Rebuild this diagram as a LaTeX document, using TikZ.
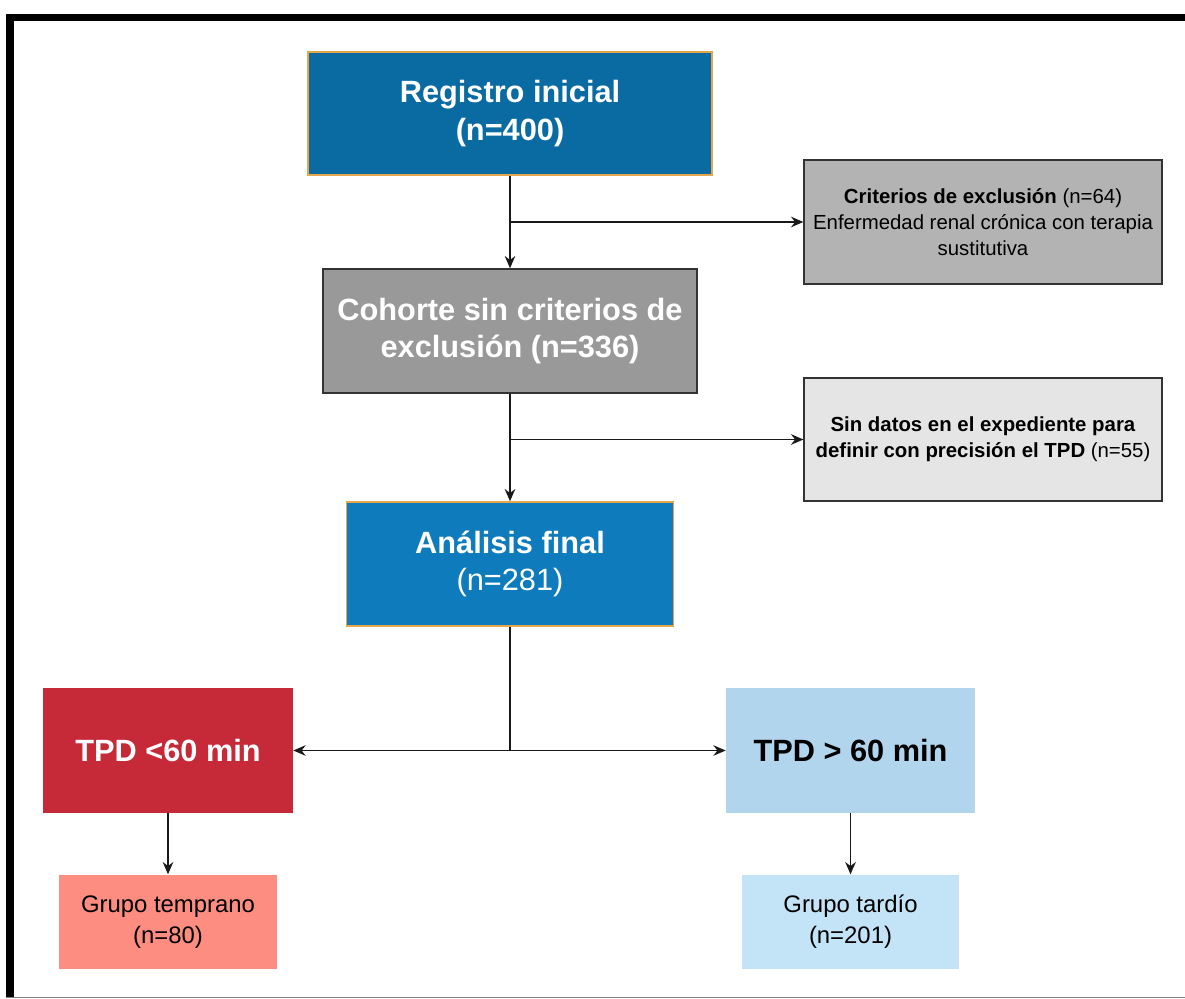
\documentclass[tikz,border=0pt]{standalone}
\usepackage{fontspec}
\setmainfont{Liberation Sans}
\usetikzlibrary{positioning,arrows.meta}
\tikzset{>={Stealth[length=7pt,width=6pt]}}
\definecolor{regblue}{HTML}{0A6AA2}
\definecolor{anablue}{HTML}{0E7BBC}
\definecolor{edgeorange}{HTML}{E6A64E}
\definecolor{cohgray}{HTML}{999999}
\definecolor{critgray}{HTML}{B3B3B3}
\definecolor{sindgray}{HTML}{E5E5E5}
\definecolor{tpdred}{HTML}{C62A38}
\definecolor{tpdblue}{HTML}{B2D5EE}
\definecolor{salmon}{HTML}{FC8D80}
\definecolor{paleblue}{HTML}{C3E3F6}
\tikzset{
  box/.style={rectangle, align=center, inner sep=0pt},
  bigtext/.style={font=\fontsize{17.5}{21.5}\selectfont},
  bigbold/.style={font=\fontsize{17.5}{21.5}\selectfont\bfseries},
  smalltext/.style={font=\fontsize{11.6}{15}\selectfont},
  grptext/.style={font=\fontsize{13.6}{17.6}\selectfont},
  flow/.style={draw=edgeorange, line width=0.8pt},
  excl/.style={draw=black!80, line width=0.8pt},
  conn/.style={line width=0.9pt, black!90}
}

\begin{document}
\begin{tikzpicture}[x=0.02cm, y=-0.02cm]
    \useasboundingbox (0,0) rectangle (1185,999);
    % frame
    \draw[line width=4pt] (6,17.5) -- (1185,17.5);
    \draw[line width=4.5pt] (10,14) -- (10,997);
    \draw[gray, line width=1.1pt] (6,997.5) -- (1185,997.5);

    \node[box, flow, fill=regblue, text=white, bigbold,
          minimum width=8.08cm, minimum height=2.46cm] (reg) at (510,113.5)
          {Registro inicial\\(n=400)};
    \node[box, excl, fill=cohgray, text=white, bigbold,
          minimum width=7.48cm, minimum height=2.48cm] (coh) at (510,331)
          {Cohorte sin criterios de\\exclusión (n=336)};
    \node[box, flow, fill=anablue, text=white, bigtext,
          minimum width=6.54cm, minimum height=2.48cm] (ana) at (510,564)
          {\textbf{Análisis final}\\(n=281)};
    \node[box, excl, fill=critgray, smalltext,
          minimum width=7.16cm, minimum height=2.48cm] (crit) at (983,222)
          {\textbf{Criterios de exclusión} (n=64)\\Enfermedad renal crónica con terapia\\sustitutiva};
    \node[box, excl, fill=sindgray, smalltext,
          minimum width=7.16cm, minimum height=2.46cm] (sind) at (983,439.5)
          {\textbf{Sin datos en el expediente para}\\\textbf{definir con precisión el TPD} (n=55)};
    \node[box, fill=tpdred, text=white, bigbold,
          minimum width=5cm, minimum height=2.5cm] (tpdA) at (168,750.5)
          {TPD <60 min};
    \node[box, fill=tpdblue, bigbold,
          minimum width=4.98cm, minimum height=2.5cm] (tpdB) at (850.5,750.5)
          {TPD > 60 min};
    \node[box, fill=salmon, grptext, minimum width=4.38cm, minimum height=1.88cm,
          below=1.22cm of tpdA] (grpA) {Grupo temprano\\(n=80)};
    \node[box, fill=paleblue, grptext, minimum width=4.36cm, minimum height=1.88cm,
          below=1.22cm of tpdB] (grpB) {Grupo tardío\\(n=201)};

    \coordinate (split) at (ana.south |- tpdA.east);

    \draw[conn, ->] (reg) -- (coh);
    \draw[conn, ->] (reg.south |- crit.west) -- (crit.west);
    \draw[conn, ->] (coh) -- (ana);
    \draw[conn, ->] (coh.south |- sind.west) -- (sind.west);
    \draw[conn] (ana.south) -- (split);
    \draw[conn, ->] (split) -- (tpdA.east);
    \draw[conn, ->] (split) -- (tpdB.west);
    \draw[conn, ->] (tpdA) -- (grpA);
    \draw[conn, ->] (tpdB) -- (grpB);
\end{tikzpicture}
\end{document}
